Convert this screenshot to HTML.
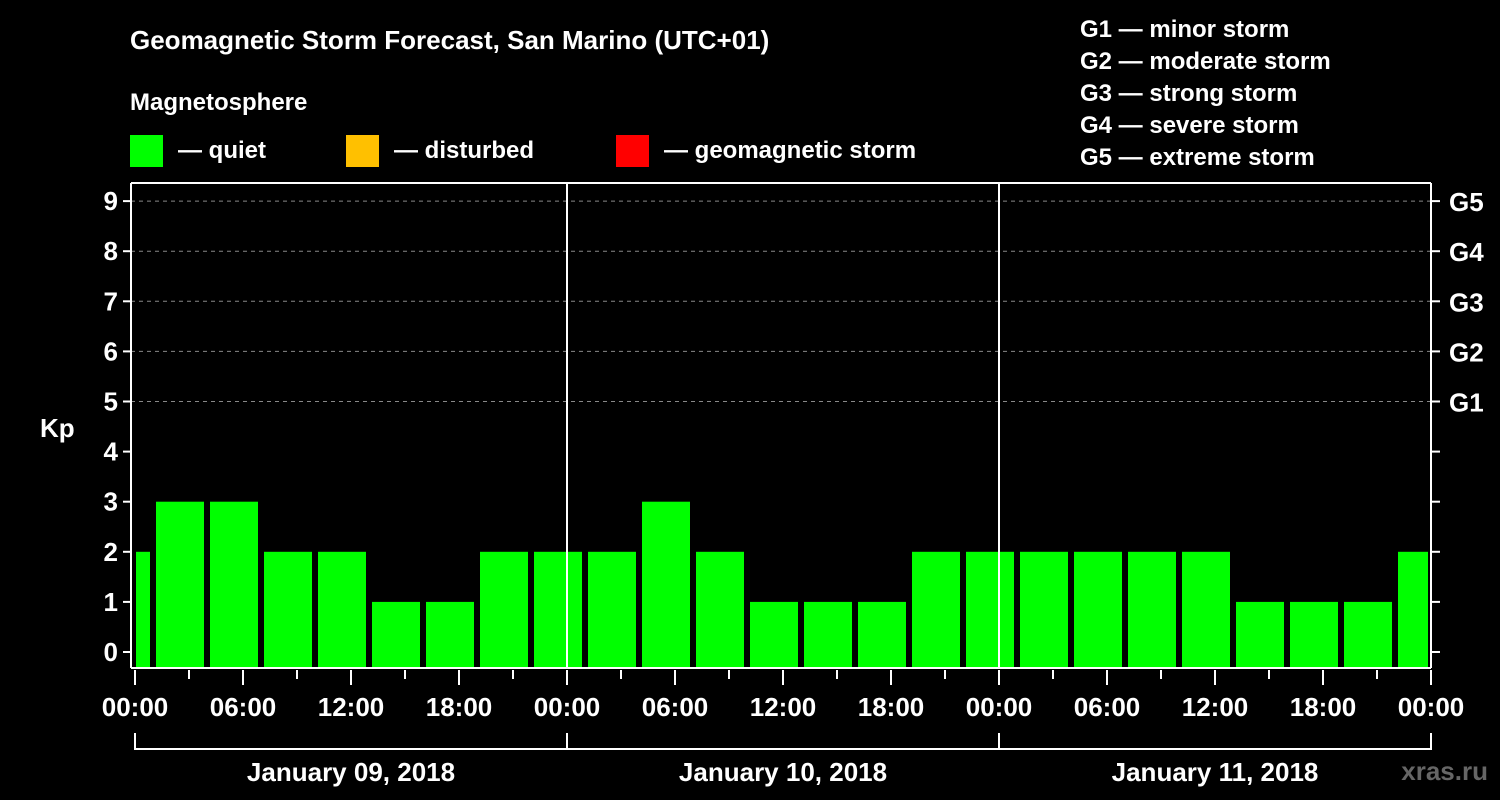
<!DOCTYPE html>
<html><head><meta charset="utf-8"><style>
html,body{margin:0;padding:0;background:#000;}
svg{display:block;font-family:"Liberation Sans",Arial,sans-serif;font-weight:bold;}
</style></head><body>
<svg id="chart" width="1500" height="800" viewBox="0 0 1500 800">
<rect x="0" y="0" width="1500" height="800" fill="#000"/>
<text x="130" y="49" fill="#fff" font-size="26">Geomagnetic Storm Forecast, San Marino (UTC+01)</text>
<text x="130" y="110" fill="#fff" font-size="24">Magnetosphere</text>
<g><rect x="130" y="135" width="33" height="32" fill="#00ff00"/><text x="178" y="158" fill="#fff" font-size="24">— quiet</text></g>
<g><rect x="346" y="135" width="33" height="32" fill="#ffc000"/><text x="394" y="158" fill="#fff" font-size="24">— disturbed</text></g>
<g><rect x="616" y="135" width="33" height="32" fill="#ff0000"/><text x="664" y="158" fill="#fff" font-size="24">— geomagnetic storm</text></g>
<g fill="#fff" font-size="24">
<text x="1080" y="37">G1 — minor storm</text>
<text x="1080" y="69">G2 — moderate storm</text>
<text x="1080" y="101">G3 — strong storm</text>
<text x="1080" y="133">G4 — severe storm</text>
<text x="1080" y="165">G5 — extreme storm</text>
</g>
<text x="40" y="437" fill="#fff" font-size="26">Kp</text>
<g id="grid"></g><g id="bars"></g><g id="axes"></g>
<text x="1488" y="780" fill="#666" font-size="26" text-anchor="end">xras.ru</text>
</svg>
<script>
const kpValues = [2,3,3,2,2,1,1,2,2, 2,3,2,1,1,1,2,2, 2,2,2,2,1,1,1,2];
const barStartHour = -2;
const yTicks = [0,1,2,3,4,5,6,7,8,9];
const gLabels = ['G1','G2','G3','G4','G5'];
const hourLabels = ['00:00','06:00','12:00','18:00'];
const dayLabels = ['January 09, 2018','January 10, 2018','January 11, 2018'];

const NS='http://www.w3.org/2000/svg';
const L=131,R=1431,T=183,B=668,X0=135,PXH=18;
const xs=h=>X0+h*PXH;
const ys=v=>652-v*50.1;
function mk(tag,attrs,parent,txt){const e=document.createElementNS(NS,tag);for(const k in attrs)e.setAttribute(k,attrs[k]);if(txt!==undefined)e.textContent=txt;parent.appendChild(e);return e;}
const grid=document.getElementById('grid'),bars=document.getElementById('bars'),axes=document.getElementById('axes');

yTicks.forEach(v=>{
  if(v>=5){const g=mk('line',{x1:L,x2:R,y1:ys(v),y2:ys(v),stroke:'#888','stroke-dasharray':'4,4','stroke-width':1},grid);
  
  }
  const t=mk('line',{x1:L-8,x2:L,y1:ys(v),y2:ys(v),stroke:'#fff','stroke-width':2},axes);
  
  
  const lb=mk('text',{x:118,y:ys(v)+9,fill:'#fff','font-size':26,'text-anchor':'end'},axes,String(v));
  
  
  const rt=mk('line',{x1:R,x2:R+9,y1:ys(v),y2:ys(v),stroke:'#fff','stroke-width':2},axes);
  
  
  if(v>=5){const gl=mk('text',{x:1449,y:ys(v)+10,fill:'#fff','font-size':26},axes,gLabels[v-5]);
  
  }
});

kpValues.forEach((v,i)=>{
  const h0=barStartHour+i*3,h1=h0+3;
  let x0=Math.max(xs(h0)+3,X0+1),x1=Math.min(xs(h1)-3,R-3);
  const col=v>=5?'#ff0000':(v>=4?'#ffc000':'#00ff00');
  const r=mk('rect',{x:x0,y:ys(v),width:x1-x0,height:B-ys(v),fill:col},bars);
  
  
});

[[L,T,L,B],[L,B,R,B],[R,T,R,B],[L,T,R,T]].forEach((c,i)=>{
  const a=mk('line',{x1:c[0],y1:c[1],x2:c[2],y2:c[3],stroke:'#fff','stroke-width':2},axes);
  
  
});
for(let d=1;d<3;d++){const dl=mk('line',{x1:xs(d*24),x2:xs(d*24),y1:T,y2:B,stroke:'#fff','stroke-width':2},axes);
  
  }
for(let h=0;h<=72;h+=3){
  const major=h%6===0;
  const t=mk('line',{x1:xs(h),x2:xs(h),y1:B+2,y2:B+(major?17:11),stroke:'#fff','stroke-width':2},axes);
  
  
  if(major){const lb=mk('text',{x:xs(h),y:716,fill:'#fff','font-size':26,'text-anchor':'middle'},axes,hourLabels[(h/6)%4]);
  
  }
}
const br=mk('line',{x1:xs(0),x2:xs(72),y1:749,y2:749,stroke:'#fff','stroke-width':2},axes);


for(let d=0;d<=3;d++){const b=mk('line',{x1:xs(d*24),x2:xs(d*24),y1:733,y2:750,stroke:'#fff','stroke-width':2},axes);
  
  }
dayLabels.forEach((s,d)=>{const t=mk('text',{x:xs(d*24+12),y:781,fill:'#fff','font-size':26,'text-anchor':'middle'},axes,s);
  
  });
</script>
</body></html>
